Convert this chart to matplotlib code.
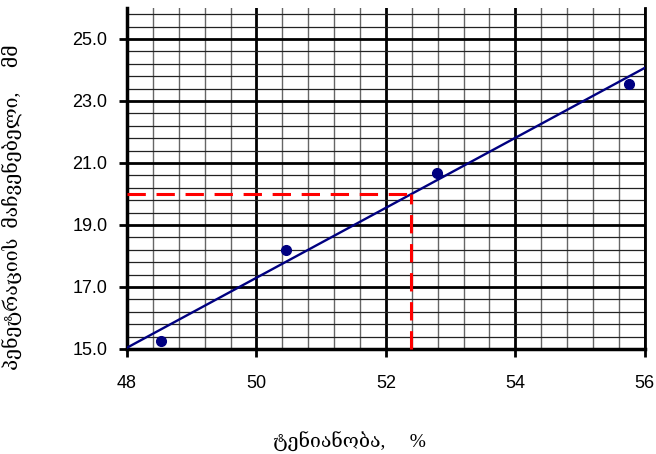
import numpy as np
import matplotlib.pyplot as plt
from matplotlib.ticker import MultipleLocator

# moisture, % vs penetration index, mm
moisture = [48.52, 50.46, 52.79, 55.75]
penetration = [15.26, 18.19, 20.68, 23.55]
target_y = 20.0

x_ticks = [48, 50, 52, 54, 56]
y_ticks = [15.0, 17.0, 19.0, 21.0, 23.0, 25.0]

xlabel = 'ტენიანობა,     %'
ylabel = 'პენეტრაციის  მაჩვენებელი,     მმ'

slope, intercept = np.polyfit(moisture, penetration, 1)
target_x = (target_y - intercept) / slope

fig = plt.figure(figsize=(6.56, 4.54), dpi=100)
ax = fig.add_axes([0.1936, 0.2313, 0.7894, 0.7511])

ax.set_xlim(48, 56)
ax.set_ylim(15, 26)
ax.set_xticks(x_ticks)
ax.set_yticks(y_ticks)
ax.xaxis.set_minor_locator(MultipleLocator(0.4))
ax.yaxis.set_minor_locator(MultipleLocator(0.4, offset=15))
ax.set_yticklabels([f'{v:.1f}' for v in y_ticks])
ax.set_xticklabels([str(v) for v in x_ticks])

ax.grid(which='minor', axis='x', color='#666666', linewidth=1.0)
ax.grid(which='minor', axis='y', color='#222222', linewidth=0.9)
ax.grid(which='major', color='black', linewidth=2.0)
ax.set_axisbelow(True)

ax.spines['top'].set_visible(False)
ax.spines['right'].set_linewidth(2)
ax.spines['left'].set_linewidth(2.5)
ax.spines['bottom'].set_linewidth(2.5)

ax.tick_params(which='major', direction='out', length=6, width=2,
               labelsize=13, pad=8)
ax.tick_params(axis='x', which='major', pad=13)
ax.tick_params(which='minor', length=0)
for lab in ax.get_xticklabels() + ax.get_yticklabels():
    lab.set_family(['Liberation Sans', 'DejaVu Sans'])

xs = np.array([48, 56])
ax.plot(xs, slope * xs + intercept, color='#000080', linewidth=1.7, zorder=3)
ax.plot(moisture, penetration, 'o', color='#000080', markersize=7, zorder=4)

ax.plot([48, target_x], [target_y, target_y], color='red',
        linestyle=(0, (6, 3.5)), linewidth=2.2, zorder=3)
ax.plot([target_x, target_x], [15, target_y], color='red',
        linestyle=(0, (6, 3.5)), linewidth=2.2, zorder=3, clip_on=False)

ax.set_xlabel(xlabel, family=['Liberation Serif', 'DejaVu Serif'], fontsize=14)
ax.set_ylabel(ylabel, family=['Liberation Serif', 'DejaVu Serif'], fontsize=14)
ax.xaxis.label.set_va('center')
ax.yaxis.label.set_va('center')
ax.xaxis.set_label_coords(0.43, -0.273)
ax.yaxis.set_label_coords(-0.222, 0.416)

fig.savefig('out.png', dpi=100)
